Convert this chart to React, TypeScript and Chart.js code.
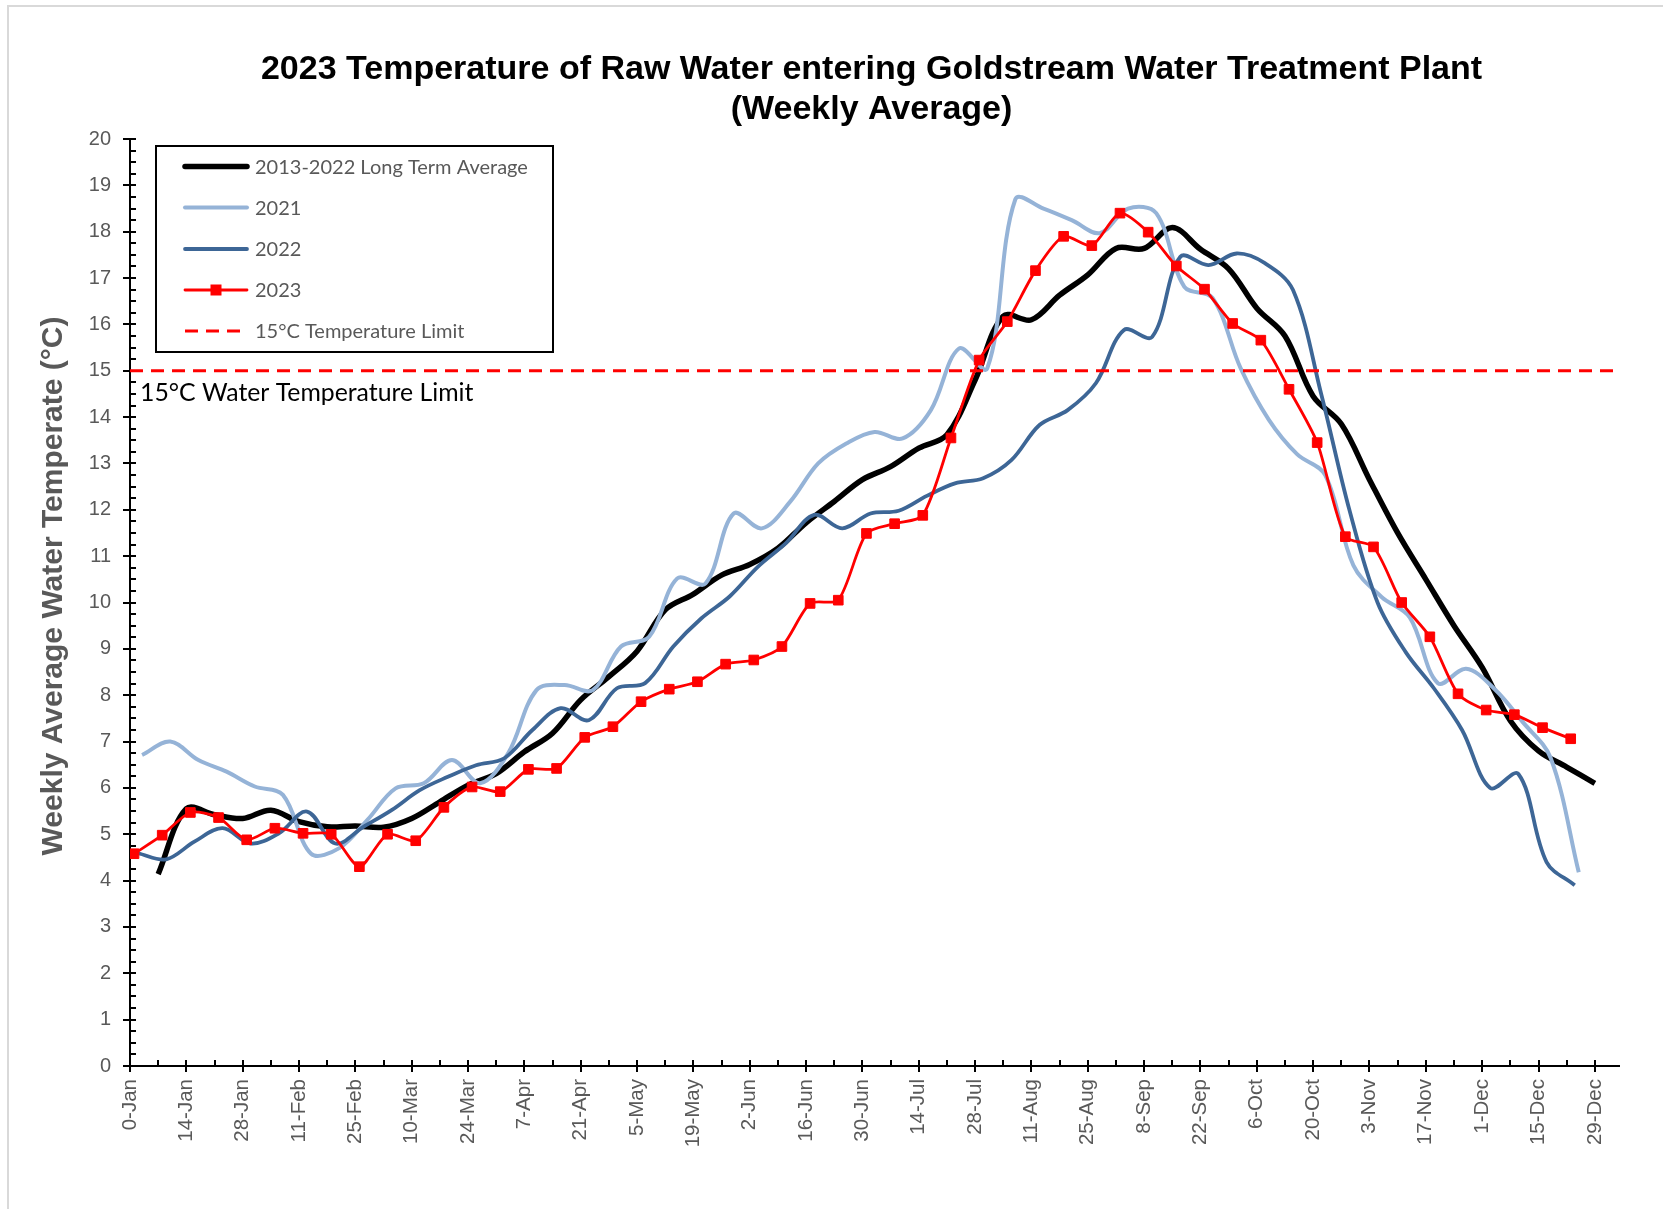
import React, { useEffect, useRef } from 'react';
import { Chart, registerables } from 'chart.js';

Chart.register(...registerables);

// ---------- data ----------
const tickDays = [0, 14, 28, 42, 56, 70, 84, 98, 112, 126, 140, 154, 168, 182, 196, 210, 224, 238, 252, 266, 280, 294, 308, 322, 336, 350, 364];
const tickLabels = ['0-Jan', '14-Jan', '28-Jan', '11-Feb', '25-Feb', '10-Mar', '24-Mar', '7-Apr', '21-Apr', '5-May', '19-May', '2-Jun', '16-Jun', '30-Jun', '14-Jul', '28-Jul', '11-Aug', '25-Aug', '8-Sep', '22-Sep', '6-Oct', '20-Oct', '3-Nov', '17-Nov', '1-Dec', '15-Dec', '29-Dec'];

const avgDays = [7, 14, 21, 28, 35, 42, 49, 56, 63, 70, 77, 84, 91, 98, 105, 112, 119, 126, 133, 140, 147, 154, 161, 168, 175, 182, 189, 196, 203, 210, 217, 224, 231, 238, 245, 252, 259, 266, 273, 280, 287, 294, 301, 308, 315, 322, 329, 336, 343, 350, 357, 364];
const avgTemps = [4.14, 5.55, 5.42, 5.34, 5.52, 5.27, 5.16, 5.18, 5.15, 5.34, 5.7, 6.06, 6.31, 6.78, 7.18, 7.9, 8.4, 8.95, 9.84, 10.18, 10.59, 10.82, 11.17, 11.72, 12.18, 12.65, 12.93, 13.33, 13.62, 14.8, 16.18, 16.1, 16.63, 17.07, 17.64, 17.64, 18.09, 17.62, 17.2, 16.35, 15.75, 14.45, 13.85, 12.65, 11.5, 10.5, 9.5, 8.6, 7.45, 6.8, 6.45, 6.1];

const days2021 = [3, 10, 17, 24, 31, 38, 45, 52, 59, 66, 73, 80, 87, 94, 101, 108, 115, 122, 129, 136, 143, 150, 157, 164, 171, 178, 185, 192, 199, 206, 213, 220, 227, 234, 241, 248, 255, 262, 269, 276, 283, 290, 297, 304, 311, 318, 325, 332, 339, 346, 353, 360];
const temps2021 = [6.71, 7.0, 6.6, 6.35, 6.03, 5.85, 4.58, 4.7, 5.31, 5.99, 6.1, 6.6, 6.1, 6.75, 8.11, 8.22, 8.11, 9.05, 9.26, 10.52, 10.41, 11.92, 11.6, 12.17, 13.0, 13.43, 13.68, 13.54, 14.15, 15.48, 15.05, 18.7, 18.5, 18.25, 17.97, 18.5, 18.4, 16.81, 16.57, 15.05, 13.94, 13.2, 12.75, 10.8, 10.12, 9.68, 8.26, 8.57, 8.14, 7.43, 6.65, 4.18];

const days2022 = [2, 9, 16, 23, 30, 37, 44, 51, 58, 65, 72, 79, 86, 93, 100, 107, 114, 121, 128, 135, 142, 149, 156, 163, 170, 177, 184, 191, 198, 205, 212, 219, 226, 233, 240, 247, 254, 261, 268, 275, 282, 289, 296, 303, 310, 317, 324, 331, 338, 345, 352, 359];
const temps2022 = [4.59, 4.46, 4.84, 5.13, 4.8, 5.02, 5.49, 4.8, 5.16, 5.52, 5.95, 6.24, 6.49, 6.64, 7.25, 7.72, 7.46, 8.15, 8.26, 9.05, 9.66, 10.13, 10.77, 11.28, 11.89, 11.6, 11.92, 11.98, 12.3, 12.57, 12.68, 13.07, 13.83, 14.15, 14.73, 15.88, 15.73, 17.46, 17.28, 17.53, 17.32, 16.74, 14.5, 12.0, 10.0, 8.93, 8.15, 7.25, 6.0, 6.3, 4.4, 3.9];

const days2023 = [1, 8, 15, 22, 29, 36, 43, 50, 57, 64, 71, 78, 85, 92, 99, 106, 113, 120, 127, 134, 141, 148, 155, 162, 169, 176, 183, 190, 197, 204, 211, 218, 225, 232, 239, 246, 253, 260, 267, 274, 281, 288, 295, 302, 309, 316, 323, 330, 337, 344, 351, 358];
const temps2023 = [4.58, 4.98, 5.47, 5.36, 4.88, 5.13, 5.02, 5.0, 4.3, 5.0, 4.86, 5.58, 6.02, 5.92, 6.4, 6.42, 7.09, 7.32, 7.86, 8.13, 8.29, 8.67, 8.76, 9.05, 9.98, 10.05, 11.49, 11.7, 11.88, 13.55, 15.23, 16.06, 17.16, 17.9, 17.7, 18.4, 17.99, 17.26, 16.76, 16.02, 15.66, 14.6, 13.45, 11.42, 11.2, 10.0, 9.26, 8.03, 7.68, 7.58, 7.3, 7.06];

const limitDays = [0, 370];
const limitTemps = [15, 15];

const seriesLabels = ['2013-2022 Long Term Average', '2021', '2022', '2023', '15°C Temperature Limit'];
const titleLines = ['2023 Temperature of Raw Water entering Goldstream Water Treatment Plant', '(Weekly Average)'];
const yAxisTitle = 'Weekly Average Water Temperate (°C)';
const limitText = '15°C Water Temperature Limit';

const pts = (xs: number[], ys: number[]) => xs.map((x, i) => ({ x, y: ys[i] }));

const SANS = '"Liberation Sans", Arial, sans-serif';
const CAL = 'Lato, "Open Sans", sans-serif';

const decorPlugin = {
  id: 'decor',
  beforeDraw(chart: any) {
    const { ctx, width, height } = chart;
    ctx.save();
    ctx.fillStyle = '#ffffff';
    ctx.fillRect(0, 0, width, height);
    ctx.strokeStyle = '#D9D9D9';
    ctx.lineWidth = 2;
    ctx.strokeRect(8, 6, width + 40, height + 40);
    ctx.restore();
  },
  beforeDatasetsDraw(chart: any) {
    const { ctx, chartArea, scales } = chart;
    const x = scales.x;
    const y = scales.y;
    ctx.save();
    ctx.strokeStyle = '#000';
    ctx.lineWidth = 2;
    for (let d = 0; d <= x.max; d += 7) {
      const px = Math.round(x.getPixelForValue(d));
      const major = d % 14 === 0;
      ctx.beginPath();
      ctx.moveTo(px, chartArea.bottom - 6);
      ctx.lineTo(px, chartArea.bottom + (major ? 6 : 0));
      ctx.stroke();
    }
    for (let i = 0; i <= 80; i++) {
      const v = i * 0.25;
      const py = Math.round(y.getPixelForValue(v));
      const major = i % 4 === 0;
      ctx.beginPath();
      ctx.moveTo(chartArea.left - (major ? 7 : 0), py);
      ctx.lineTo(chartArea.left + 6, py);
      ctx.stroke();
    }
    ctx.restore();
  },
  afterDraw(chart: any) {
    const { ctx, scales } = chart;
    ctx.save();
    // title
    ctx.fillStyle = '#000';
    ctx.textAlign = 'center';
    ctx.textBaseline = 'alphabetic';
    ctx.font = `bold 34px ${SANS}`;
    ctx.fillText(titleLines[0], 871.5, 79);
    ctx.fillText(titleLines[1], 871.5, 119);
    // y axis title
    ctx.save();
    ctx.translate(53.5, 586);
    ctx.rotate(-Math.PI / 2);
    ctx.fillStyle = '#595959';
    ctx.font = `bold 30px ${SANS}`;
    ctx.textBaseline = 'middle';
    ctx.fillText(yAxisTitle, 0, 0);
    ctx.restore();
    // limit label
    ctx.fillStyle = '#000';
    ctx.textAlign = 'left';
    ctx.font = `24.8px ${CAL}`;
    ctx.textBaseline = 'alphabetic';
    ctx.fillText(limitText, 140, scales.y.getPixelForValue(15) + 30);
    // legend box
    const bx = 156, by = 146, bw = 397, bh = 206;
    ctx.strokeStyle = '#000';
    ctx.lineWidth = 2;
    ctx.strokeRect(bx, by, bw, bh);
    const rows = [166.5, 207.5, 249, 290, 331];
    const order = [0, 1, 2, 3, 4];
    order.forEach((di, r) => {
      const ds = chart.data.datasets[di];
      const ry = rows[r];
      ctx.save();
      ctx.strokeStyle = ds.borderColor;
      ctx.lineWidth = ds.borderWidth;
      ctx.lineCap = ds.borderDash ? 'butt' : 'round';
      ctx.setLineDash(ds.borderDash || []);
      ctx.beginPath();
      ctx.moveTo(185, ry);
      ctx.lineTo(247, ry);
      ctx.stroke();
      ctx.restore();
      if (ds.pointRadius > 0) {
        ctx.fillStyle = ds.pointBackgroundColor;
        ctx.fillRect(216 - 5.5, ry - 5.5, 11, 11);
      }
      ctx.fillStyle = '#595959';
      ctx.font = `20px ${CAL}`;
      ctx.textBaseline = 'middle';
      ctx.fillText(ds.label, 255, ry + 1);
    });
    ctx.restore();
  },
};

export default function App() {
  const ref = useRef<HTMLCanvasElement | null>(null);
  useEffect(() => {
    if (!ref.current) return;
    const chart = new Chart(ref.current, {
      type: 'line',
      data: {
        datasets: [
          {
            label: seriesLabels[0],
            data: pts(avgDays, avgTemps),
            borderColor: '#000000',
            borderWidth: 5.5,
            tension: 0.35,
            pointRadius: 0,
            order: 4,
          },
          {
            label: seriesLabels[1],
            data: pts(days2021, temps2021),
            borderColor: '#95B3D7',
            borderWidth: 4,
            tension: 0.35,
            pointRadius: 0,
            order: 3,
          },
          {
            label: seriesLabels[2],
            data: pts(days2022, temps2022),
            borderColor: '#3D6696',
            borderWidth: 3.8,
            tension: 0.35,
            pointRadius: 0,
            order: 2,
          },
          {
            label: seriesLabels[3],
            data: pts(days2023, temps2023),
            borderColor: '#FF0000',
            borderWidth: 2.8,
            tension: 0.25,
            pointStyle: 'rect',
            pointRadius: 6.8,
            pointBorderWidth: 1,
            pointBackgroundColor: '#FF0000',
            pointBorderColor: '#FF0000',
            order: 1,
          },
          {
            label: seriesLabels[4],
            data: pts(limitDays, limitTemps),
            borderColor: '#FF0000',
            borderWidth: 3,
            borderDash: [13, 8],
            pointRadius: 0,
            order: 0,
          },
        ] as any,
      },
      options: {
        responsive: false,
        animation: false,
        events: [],
        layout: { padding: { left: 0, top: 139, right: 44, bottom: 0 } },
        plugins: {
          legend: { display: false },
          tooltip: { enabled: false },
          title: { display: false },
        },
        scales: {
          x: {
            type: 'linear',
            min: 0,
            max: 370,
            afterBuildTicks: (axis: any) => {
              axis.ticks = tickDays.map((v) => ({ value: v }));
            },
            afterFit: (axis: any) => {
              axis.height = 143;
            },
            ticks: {
              autoSkip: false,
              minRotation: 90,
              maxRotation: 90,
              padding: 13,
              color: '#595959',
              font: { family: SANS, size: 20.5 },
              callback: (_v: any, i: number) => tickLabels[i],
            },
            grid: { display: false, drawTicks: false },
            border: { display: true, color: '#000', width: 2 },
          },
          y: {
            min: 0,
            max: 20,
            afterFit: (axis: any) => {
              axis.width = 130;
            },
            ticks: {
              stepSize: 1,
              padding: 19,
              color: '#595959',
              font: { family: SANS, size: 20 },
            },
            grid: { display: false, drawTicks: false },
            border: { display: true, color: '#000', width: 2 },
          },
        },
      } as any,
      plugins: [decorPlugin],
    });
    return () => chart.destroy();
  }, []);
  return (
    <div style={{ position: 'absolute', left: 0, top: 0, width: 1663, height: 1209, overflow: 'hidden' }}>
      <canvas ref={ref} width={1663} height={1209} style={{ display: 'block' }} />
    </div>
  );
}
